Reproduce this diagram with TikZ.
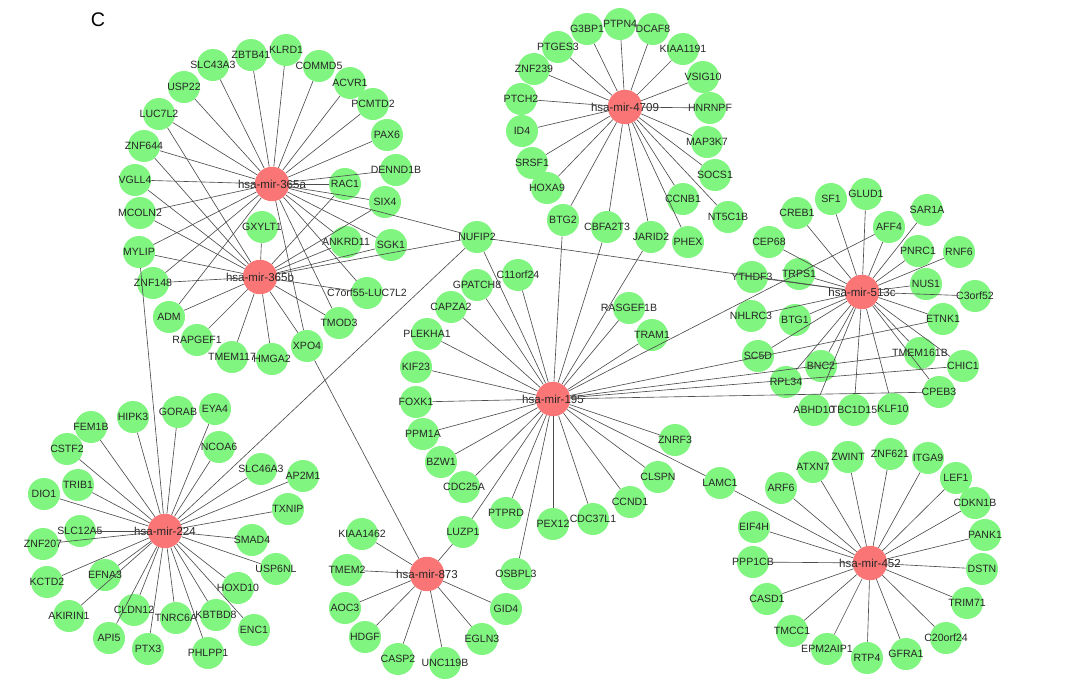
\documentclass[tikz,border=0pt]{standalone}
\usepackage{fontspec}
\setmainfont{Liberation Sans}
\usepackage{tikz}
\definecolor{genegreen}{RGB}{128,245,128}
\definecolor{mirred}{RGB}{250,118,118}
\tikzstyle{gene}=[circle,fill=genegreen,minimum size=0.8cm,inner sep=0pt,text=black!85,font=\fontsize{7.5}{9}\selectfont]
\tikzstyle{mir}=[circle,fill=mirred,minimum size=0.86cm,inner sep=0pt,text=black!85,font=\fontsize{8.2}{10}\selectfont]
\tikzstyle{link}=[draw=black!70,line width=0.45pt]
\newcommand{\lbl}[1]{\makebox[0pt]{#1}}

\begin{document}
\begin{tikzpicture}[x=0.025cm,y=-0.025cm]
  \useasboundingbox (0,0) rectangle (1080,687);
  \node[font=\fontsize{14}{16}\selectfont] (panel) at (98,20) {C};

  % hubs
  \node[mir] (m365a) at (272,184) {\lbl{hsa-mir-365a}};
  \node[mir] (m365b) at (260,277) {\lbl{hsa-mir-365b}};
  \node[mir] (m4709) at (625,107) {\lbl{hsa-mir-4709}};
  \node[mir] (m513c) at (862,292) {\lbl{hsa-mir-513c}};
  \node[mir] (m195) at (553,399) {\lbl{hsa-mir-195}};
  \node[mir] (m224) at (165,531) {\lbl{hsa-mir-224}};
  \node[mir] (m873) at (427,574) {\lbl{hsa-mir-873}};
  \node[mir] (m452) at (870,563) {\lbl{hsa-mir-452}};

  % 365a / 365b
  \node[gene] (SLC43A3) at (213,65) {\lbl{SLC43A3}};
  \node[gene] (ZBTB41) at (251,55) {\lbl{ZBTB41}};
  \node[gene] (KLRD1) at (286,50) {\lbl{KLRD1}};
  \node[gene] (COMMD5) at (319,66) {\lbl{COMMD5}};
  \node[gene] (ACVR1) at (350,83) {\lbl{ACVR1}};
  \node[gene] (PCMTD2) at (373,104) {\lbl{PCMTD2}};
  \node[gene] (PAX6) at (387,135) {\lbl{PAX6}};
  \node[gene] (DENND1B) at (396,170) {\lbl{DENND1B}};
  \node[gene] (RAC1) at (345,184) {\lbl{RAC1}};
  \node[gene] (SIX4) at (385,202) {\lbl{SIX4}};
  \node[gene] (USP22) at (184,87) {\lbl{USP22}};
  \node[gene] (LUC7L2) at (159,114) {\lbl{LUC7L2}};
  \node[gene] (ZNF644) at (144,146) {\lbl{ZNF644}};
  \node[gene] (VGLL4) at (135,180) {\lbl{VGLL4}};
  \node[gene] (MCOLN2) at (140,213) {\lbl{MCOLN2}};
  \node[gene] (GXYLT1) at (262,227) {\lbl{GXYLT1}};
  \node[gene] (ANKRD11) at (346,242) {\lbl{ANKRD11}};
  \node[gene] (SGK1) at (391,245) {\lbl{SGK1}};
  \node[gene] (MYLIP) at (139,252) {\lbl{MYLIP}};
  \node[gene] (ZNF148) at (153,283) {\lbl{ZNF148}};
  \node[gene] (C7orf55) at (367,293) {\lbl{C7orf55-LUC7L2}};
  \node[gene] (ADM) at (169,317) {\lbl{ADM}};
  \node[gene] (TMOD3) at (339,323) {\lbl{TMOD3}};
  \node[gene] (RAPGEF1) at (197,340) {\lbl{RAPGEF1}};
  \node[gene] (XPO4) at (307,346) {\lbl{XPO4}};
  \node[gene] (TMEM117) at (232,357) {\lbl{TMEM117}};
  \node[gene] (HMGA2) at (272,359) {\lbl{HMGA2}};
  \node[gene] (NUFIP2) at (477,237) {\lbl{NUFIP2}};

  % 4709
  \node[gene] (G3BP1) at (587,29) {\lbl{G3BP1}};
  \node[gene] (PTPN4) at (620,24) {\lbl{PTPN4}};
  \node[gene] (DCAF8) at (653,29) {\lbl{DCAF8}};
  \node[gene] (KIAA1191) at (683,49) {\lbl{KIAA1191}};
  \node[gene] (PTGES3) at (558,47) {\lbl{PTGES3}};
  \node[gene] (ZNF239) at (534,69) {\lbl{ZNF239}};
  \node[gene] (PTCH2) at (521,99) {\lbl{PTCH2}};
  \node[gene] (VSIG10) at (703,77) {\lbl{VSIG10}};
  \node[gene] (HNRNPF) at (710,108) {\lbl{HNRNPF}};
  \node[gene] (MAP3K7) at (707,142) {\lbl{MAP3K7}};
  \node[gene] (ID4) at (522,131) {\lbl{ID4}};
  \node[gene] (SRSF1) at (532,163) {\lbl{SRSF1}};
  \node[gene] (HOXA9) at (547,188) {\lbl{HOXA9}};
  \node[gene] (SOCS1) at (715,175) {\lbl{SOCS1}};
  \node[gene] (CCNB1) at (683,199) {\lbl{CCNB1}};
  \node[gene] (NT5C1B) at (728,217) {\lbl{NT5C1B}};
  \node[gene] (BTG2) at (563,220) {\lbl{BTG2}};
  \node[gene] (CBFA2T3) at (607,227) {\lbl{CBFA2T3}};
  \node[gene] (JARID2) at (651,237) {\lbl{JARID2}};
  \node[gene] (PHEX) at (688,242) {\lbl{PHEX}};

  % 195
  \node[gene] (GPATCH8) at (477,285) {\lbl{GPATCH8}};
  \node[gene] (C11orf24) at (518,275) {\lbl{C11orf24}};
  \node[gene] (CAPZA2) at (451,307) {\lbl{CAPZA2}};
  \node[gene] (PLEKHA1) at (427,334) {\lbl{PLEKHA1}};
  \node[gene] (KIF23) at (416,367) {\lbl{KIF23}};
  \node[gene] (FOXK1) at (416,402) {\lbl{FOXK1}};
  \node[gene] (PPM1A) at (423,434) {\lbl{PPM1A}};
  \node[gene] (BZW1) at (441,462) {\lbl{BZW1}};
  \node[gene] (CDC25A) at (464,487) {\lbl{CDC25A}};
  \node[gene] (PTPRD) at (506,513) {\lbl{PTPRD}};
  \node[gene] (LUZP1) at (463,532) {\lbl{LUZP1}};
  \node[gene] (PEX12) at (553,524) {\lbl{PEX12}};
  \node[gene] (CDC37L1) at (593,519) {\lbl{CDC37L1}};
  \node[gene] (OSBPL3) at (516,574) {\lbl{OSBPL3}};
  \node[gene] (CCND1) at (630,502) {\lbl{CCND1}};
  \node[gene] (CLSPN) at (658,477) {\lbl{CLSPN}};
  \node[gene] (ZNRF3) at (675,440) {\lbl{ZNRF3}};
  \node[gene] (LAMC1) at (720,483) {\lbl{LAMC1}};
  \node[gene] (RASGEF1B) at (629,308) {\lbl{RASGEF1B}};
  \node[gene] (TRAM1) at (652,335) {\lbl{TRAM1}};

  % 513c
  \node[gene] (CREB1) at (797,213) {\lbl{CREB1}};
  \node[gene] (SF1) at (831,199) {\lbl{SF1}};
  \node[gene] (GLUD1) at (866,194) {\lbl{GLUD1}};
  \node[gene] (SAR1A) at (927,210) {\lbl{SAR1A}};
  \node[gene] (AFF4) at (889,227) {\lbl{AFF4}};
  \node[gene] (CEP68) at (769,242) {\lbl{CEP68}};
  \node[gene] (PNRC1) at (918,251) {\lbl{PNRC1}};
  \node[gene] (RNF6) at (959,252) {\lbl{RNF6}};
  \node[gene] (TRPS1) at (799,274) {\lbl{TRPS1}};
  \node[gene] (YTHDF3) at (752,277) {\lbl{YTHDF3}};
  \node[gene] (NUS1) at (926,284) {\lbl{NUS1}};
  \node[gene] (C3orf52) at (975,296) {\lbl{C3orf52}};
  \node[gene] (NHLRC3) at (751,316) {\lbl{NHLRC3}};
  \node[gene] (BTG1) at (795,320) {\lbl{BTG1}};
  \node[gene] (ETNK1) at (943,319) {\lbl{ETNK1}};
  \node[gene] (SC5D) at (758,356) {\lbl{SC5D}};
  \node[gene] (TMEM161B) at (920,353) {\lbl{TMEM161B}};
  \node[gene] (BNC2) at (821,366) {\lbl{BNC2}};
  \node[gene] (CHIC1) at (963,366) {\lbl{CHIC1}};
  \node[gene] (RPL34) at (786,382) {\lbl{RPL34}};
  \node[gene] (CPEB3) at (939,392) {\lbl{CPEB3}};
  \node[gene] (ABHD10) at (814,410) {\lbl{ABHD10}};
  \node[gene] (TBC1D15) at (854,410) {\lbl{TBC1D15}};
  \node[gene] (KLF10) at (893,409) {\lbl{KLF10}};

  % 224
  \node[gene] (GORAB) at (178,412) {\lbl{GORAB}};
  \node[gene] (EYA4) at (215,409) {\lbl{EYA4}};
  \node[gene] (HIPK3) at (133,417) {\lbl{HIPK3}};
  \node[gene] (FEM1B) at (91,427) {\lbl{FEM1B}};
  \node[gene] (CSTF2) at (67,449) {\lbl{CSTF2}};
  \node[gene] (NCOA6) at (219,447) {\lbl{NCOA6}};
  \node[gene] (SLC46A3) at (261,469) {\lbl{SLC46A3}};
  \node[gene] (AP2M1) at (303,476) {\lbl{AP2M1}};
  \node[gene] (TRIB1) at (78,485) {\lbl{TRIB1}};
  \node[gene] (DIO1) at (44,494) {\lbl{DIO1}};
  \node[gene] (TXNIP) at (288,509) {\lbl{TXNIP}};
  \node[gene] (SLC12A5) at (80,531) {\lbl{SLC12A5}};
  \node[gene] (ZNF207) at (43,544) {\lbl{ZNF207}};
  \node[gene] (SMAD4) at (252,540) {\lbl{SMAD4}};
  \node[gene] (USP6NL) at (276,569) {\lbl{USP6NL}};
  \node[gene] (KCTD2) at (47,582) {\lbl{KCTD2}};
  \node[gene] (EFNA3) at (105,575) {\lbl{EFNA3}};
  \node[gene] (HOXD10) at (238,588) {\lbl{HOXD10}};
  \node[gene] (AKIRIN1) at (69,616) {\lbl{AKIRIN1}};
  \node[gene] (CLDN12) at (134,610) {\lbl{CLDN12}};
  \node[gene] (TNRC6A) at (176,618) {\lbl{TNRC6A}};
  \node[gene] (KBTBD8) at (216,615) {\lbl{KBTBD8}};
  \node[gene] (ENC1) at (254,630) {\lbl{ENC1}};
  \node[gene] (API5) at (109,638) {\lbl{API5}};
  \node[gene] (PTX3) at (148,649) {\lbl{PTX3}};
  \node[gene] (PHLPP1) at (208,653) {\lbl{PHLPP1}};

  % 873
  \node[gene] (KIAA1462) at (362,534) {\lbl{KIAA1462}};
  \node[gene] (TMEM2) at (347,570) {\lbl{TMEM2}};
  \node[gene] (AOC3) at (345,608) {\lbl{AOC3}};
  \node[gene] (HDGF) at (365,637) {\lbl{HDGF}};
  \node[gene] (CASP2) at (398,659) {\lbl{CASP2}};
  \node[gene] (UNC119B) at (445,663) {\lbl{UNC119B}};
  \node[gene] (EGLN3) at (482,639) {\lbl{EGLN3}};
  \node[gene] (GID4) at (506,609) {\lbl{GID4}};

  % 452
  \node[gene] (ARF6) at (781,488) {\lbl{ARF6}};
  \node[gene] (ATXN7) at (813,467) {\lbl{ATXN7}};
  \node[gene] (ZWINT) at (848,457) {\lbl{ZWINT}};
  \node[gene] (ZNF621) at (890,454) {\lbl{ZNF621}};
  \node[gene] (ITGA9) at (928,458) {\lbl{ITGA9}};
  \node[gene] (LEF1) at (956,478) {\lbl{LEF1}};
  \node[gene] (CDKN1B) at (975,503) {\lbl{CDKN1B}};
  \node[gene] (PANK1) at (985,535) {\lbl{PANK1}};
  \node[gene] (DSTN) at (982,569) {\lbl{DSTN}};
  \node[gene] (TRIM71) at (967,603) {\lbl{TRIM71}};
  \node[gene] (C20orf24) at (946,638) {\lbl{C20orf24}};
  \node[gene] (GFRA1) at (906,654) {\lbl{GFRA1}};
  \node[gene] (RTP4) at (867,658) {\lbl{RTP4}};
  \node[gene] (EPM2AIP1) at (827,649) {\lbl{EPM2AIP1}};
  \node[gene] (TMCC1) at (792,631) {\lbl{TMCC1}};
  \node[gene] (CASD1) at (767,599) {\lbl{CASD1}};
  \node[gene] (PPP1CB) at (753,562) {\lbl{PPP1CB}};
  \node[gene] (EIF4H) at (754,527) {\lbl{EIF4H}};

  % links
  \draw[link] (m365a)--(SLC43A3); \draw[link] (m365a)--(ZBTB41); \draw[link] (m365a)--(KLRD1); \draw[link] (m365a)--(COMMD5);
  \draw[link] (m365a)--(ACVR1); \draw[link] (m365a)--(PCMTD2); \draw[link] (m365a)--(PAX6); \draw[link] (m365a)--(DENND1B);
  \draw[link] (m365a)--(RAC1); \draw[link] (m365a)--(SIX4); \draw[link] (m365a)--(NUFIP2); \draw[link] (m365a)--(SGK1);
  \draw[link] (m365a)--(ANKRD11); \draw[link] (m365a)--(C7orf55); \draw[link] (m365a)--(TMOD3); \draw[link] (m365a)--(XPO4);
  \draw[link] (m365a)--(USP22); \draw[link] (m365a)--(LUC7L2); \draw[link] (m365a)--(ZNF644); \draw[link] (m365a)--(VGLL4);
  \draw[link] (m365a)--(MCOLN2); \draw[link] (m365a)--(MYLIP); \draw[link] (m365a)--(ZNF148); \draw[link] (m365a)--(ADM);

  \draw[link] (m365b)--(LUC7L2); \draw[link] (m365b)--(ZNF644); \draw[link] (m365b)--(VGLL4); \draw[link] (m365b)--(MCOLN2);
  \draw[link] (m365b)--(MYLIP); \draw[link] (m365b)--(ZNF148); \draw[link] (m365b)--(ADM); \draw[link] (m365b)--(RAPGEF1);
  \draw[link] (m365b)--(TMEM117); \draw[link] (m365b)--(HMGA2); \draw[link] (m365b)--(XPO4); \draw[link] (m365b)--(TMOD3);
  \draw[link] (m365b)--(C7orf55); \draw[link] (m365b)--(GXYLT1); \draw[link] (m365b)--(ANKRD11); \draw[link] (m365b)--(SGK1);
  \draw[link] (m365b)--(NUFIP2); \draw[link] (m365b)--(RAC1); \draw[link] (m365b)--(SIX4);

  \draw[link] (m4709)--(G3BP1); \draw[link] (m4709)--(PTPN4); \draw[link] (m4709)--(DCAF8); \draw[link] (m4709)--(KIAA1191);
  \draw[link] (m4709)--(PTGES3); \draw[link] (m4709)--(ZNF239); \draw[link] (m4709)--(PTCH2); \draw[link] (m4709)--(VSIG10);
  \draw[link] (m4709)--(HNRNPF); \draw[link] (m4709)--(MAP3K7); \draw[link] (m4709)--(ID4); \draw[link] (m4709)--(SRSF1);
  \draw[link] (m4709)--(HOXA9); \draw[link] (m4709)--(SOCS1); \draw[link] (m4709)--(CCNB1); \draw[link] (m4709)--(NT5C1B);
  \draw[link] (m4709)--(BTG2); \draw[link] (m4709)--(CBFA2T3); \draw[link] (m4709)--(JARID2); \draw[link] (m4709)--(PHEX);

  \draw[link] (m195)--(GPATCH8); \draw[link] (m195)--(C11orf24); \draw[link] (m195)--(CAPZA2); \draw[link] (m195)--(PLEKHA1);
  \draw[link] (m195)--(KIF23); \draw[link] (m195)--(FOXK1); \draw[link] (m195)--(PPM1A); \draw[link] (m195)--(BZW1);
  \draw[link] (m195)--(CDC25A); \draw[link] (m195)--(PTPRD); \draw[link] (m195)--(LUZP1); \draw[link] (m195)--(PEX12);
  \draw[link] (m195)--(CDC37L1); \draw[link] (m195)--(OSBPL3); \draw[link] (m195)--(CCND1); \draw[link] (m195)--(CLSPN);
  \draw[link] (m195)--(ZNRF3); \draw[link] (m195)--(LAMC1); \draw[link] (m195)--(RASGEF1B); \draw[link] (m195)--(TRAM1);
  \draw[link] (m195)--(BTG2); \draw[link] (m195)--(CBFA2T3); \draw[link] (m195)--(JARID2); \draw[link] (m195)--(NUFIP2);
  \draw[link] (m195)--(AFF4); \draw[link] (m195)--(ETNK1); \draw[link] (m195)--(TMEM161B); \draw[link] (m195)--(CHIC1);
  \draw[link] (m195)--(CPEB3);

  \draw[link] (m513c)--(CREB1); \draw[link] (m513c)--(SF1); \draw[link] (m513c)--(GLUD1); \draw[link] (m513c)--(SAR1A);
  \draw[link] (m513c)--(AFF4); \draw[link] (m513c)--(CEP68); \draw[link] (m513c)--(PNRC1); \draw[link] (m513c)--(RNF6);
  \draw[link] (m513c)--(TRPS1); \draw[link] (m513c)--(YTHDF3); \draw[link] (m513c)--(NUS1); \draw[link] (m513c)--(C3orf52);
  \draw[link] (m513c)--(NHLRC3); \draw[link] (m513c)--(BTG1); \draw[link] (m513c)--(ETNK1); \draw[link] (m513c)--(SC5D);
  \draw[link] (m513c)--(TMEM161B); \draw[link] (m513c)--(BNC2); \draw[link] (m513c)--(CHIC1); \draw[link] (m513c)--(RPL34);
  \draw[link] (m513c)--(CPEB3); \draw[link] (m513c)--(ABHD10); \draw[link] (m513c)--(TBC1D15); \draw[link] (m513c)--(KLF10);
  \draw[link] (m513c)--(NUFIP2);

  \draw[link] (m224)--(GORAB); \draw[link] (m224)--(EYA4); \draw[link] (m224)--(HIPK3); \draw[link] (m224)--(FEM1B);
  \draw[link] (m224)--(CSTF2); \draw[link] (m224)--(NCOA6); \draw[link] (m224)--(SLC46A3); \draw[link] (m224)--(AP2M1);
  \draw[link] (m224)--(TRIB1); \draw[link] (m224)--(DIO1); \draw[link] (m224)--(TXNIP); \draw[link] (m224)--(SLC12A5);
  \draw[link] (m224)--(ZNF207); \draw[link] (m224)--(SMAD4); \draw[link] (m224)--(USP6NL); \draw[link] (m224)--(KCTD2);
  \draw[link] (m224)--(EFNA3); \draw[link] (m224)--(HOXD10); \draw[link] (m224)--(AKIRIN1); \draw[link] (m224)--(CLDN12);
  \draw[link] (m224)--(TNRC6A); \draw[link] (m224)--(KBTBD8); \draw[link] (m224)--(ENC1); \draw[link] (m224)--(API5);
  \draw[link] (m224)--(PTX3); \draw[link] (m224)--(PHLPP1); \draw[link] (m224)--(MYLIP); \draw[link] (m224)--(NUFIP2);

  \draw[link] (m873)--(KIAA1462); \draw[link] (m873)--(TMEM2); \draw[link] (m873)--(AOC3); \draw[link] (m873)--(HDGF);
  \draw[link] (m873)--(CASP2); \draw[link] (m873)--(UNC119B); \draw[link] (m873)--(EGLN3); \draw[link] (m873)--(GID4);
  \draw[link] (m873)--(LUZP1); \draw[link] (m873)--(XPO4);

  \draw[link] (m452)--(LAMC1); \draw[link] (m452)--(ARF6); \draw[link] (m452)--(ATXN7); \draw[link] (m452)--(ZWINT);
  \draw[link] (m452)--(ZNF621); \draw[link] (m452)--(ITGA9); \draw[link] (m452)--(LEF1); \draw[link] (m452)--(CDKN1B);
  \draw[link] (m452)--(PANK1); \draw[link] (m452)--(DSTN); \draw[link] (m452)--(TRIM71); \draw[link] (m452)--(C20orf24);
  \draw[link] (m452)--(GFRA1); \draw[link] (m452)--(RTP4); \draw[link] (m452)--(EPM2AIP1); \draw[link] (m452)--(TMCC1);
  \draw[link] (m452)--(CASD1); \draw[link] (m452)--(PPP1CB); \draw[link] (m452)--(EIF4H);
\end{tikzpicture}
\end{document}
